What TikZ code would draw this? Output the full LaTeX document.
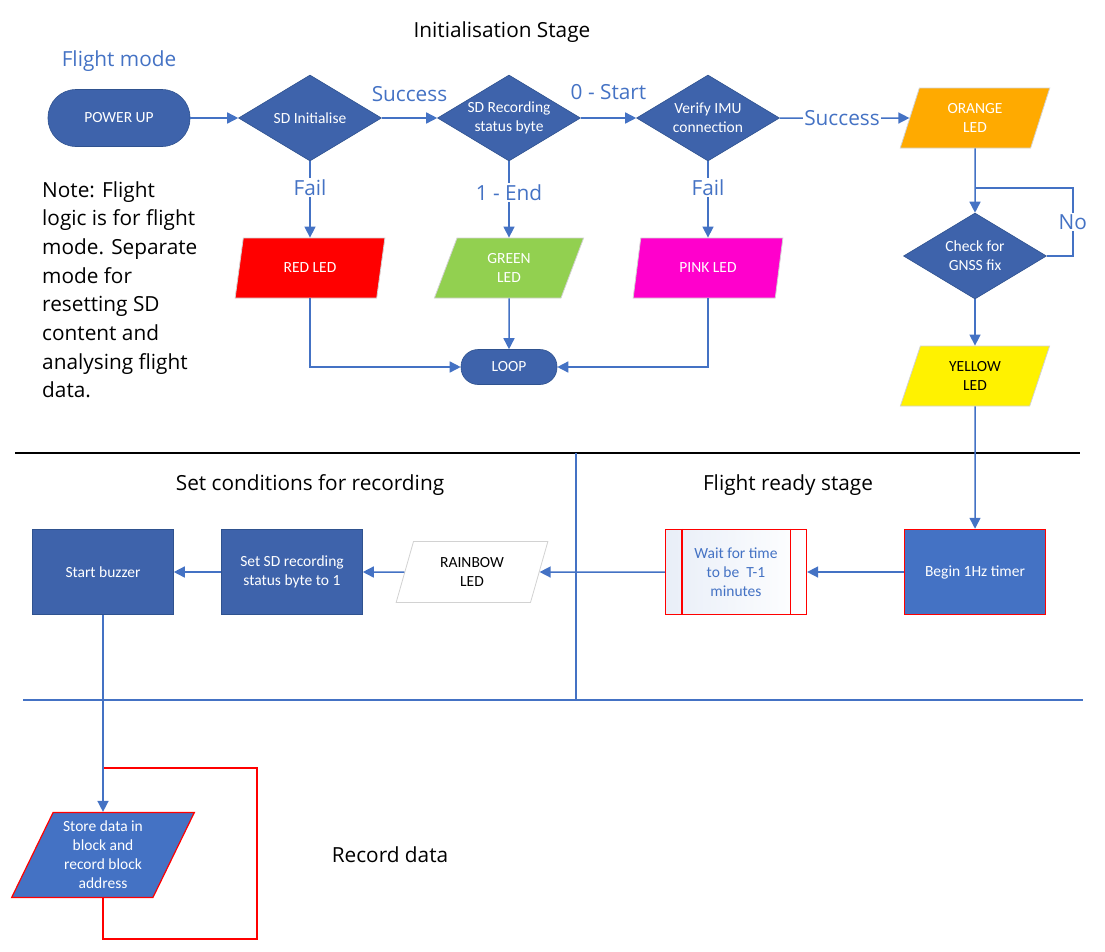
\documentclass[tikz,border=0pt]{standalone}
\usepackage{fontspec}
\setmainfont{Carlito}
\newfontfamily\labelfont{Open Sans}
\usetikzlibrary{arrows.meta,shapes.geometric}
\definecolor{nodeblue}{HTML}{3E63AB}
\definecolor{edgeblue}{HTML}{2F528F}
\definecolor{lineblue}{HTML}{4472C4}
\definecolor{ledgreen}{HTML}{92D050}
\definecolor{ledpink}{HTML}{FF00CC}
\definecolor{ledorange}{HTML}{FFAA00}
\tikzset{
 flow/.style={draw=lineblue,line width=1.5pt,-{Triangle[length=11pt,width=11pt]}},
 plainline/.style={draw=lineblue,line width=1.5pt},
 redloop/.style={draw=red,line width=1.8pt},
 nodetext/.style={font=\fontsize{15.5}{19}\selectfont,align=center},
 terminal/.style={nodetext,rectangle,rounded corners=28pt,minimum width=142pt,minimum height=57pt,fill=nodeblue,draw=edgeblue,line width=.6pt,text=white},
 decision/.style={nodetext,diamond,aspect=1.7,inner sep=0pt,minimum width=143pt,minimum height=86pt,fill=nodeblue,draw=edgeblue,line width=.6pt,text=white},
 ledbox/.style={nodetext,trapezium,trapezium left angle=72,trapezium right angle=108,trapezium stretches=true,minimum width=150pt,minimum height=60pt,draw=gray!35,line width=.8pt,text=white,inner sep=0pt},
 process/.style={nodetext,rectangle,minimum width=141pt,minimum height=85pt,fill=nodeblue,draw=edgeblue,line width=.6pt,text=white},
 heading/.style={font=\labelfont\fontsize{20.8}{28.7}\selectfont},
 edgelabel/.style={heading,text=lineblue,fill=white,inner sep=1.5pt}
}
\begin{document}
\begin{tikzpicture}[x=1pt,y=-1pt]
\path[use as bounding box] (0,0) rectangle (1105,951);
% stage titles
\node[heading] (tinit) at (502,32) {Initialisation Stage};
\node[heading,text=lineblue] (tmode) at (119,61) {Flight mode};
\node[heading] (tcond) at (310,485) {Set conditions for recording};
\node[heading] (tready) at (788,485) {Flight ready stage};
\node[heading] (trec) at (390,855) {Record data};
\node[heading,anchor=north west,align=left,inner sep=0pt] (note) at (42,181)
 {Note: Flight\\logic is for flight\\mode. Separate\\mode for\\resetting SD\\content and\\analysing flight\\data.};
% stage separators
\draw[line width=1.5pt] (15,453) -- (1080,453);
\draw[plainline] (23,700) -- (1083,700);
\draw[plainline] (576,453) -- (576,700);
% initialisation
\node[terminal] (power) at (119,118) {POWER UP};
\node[decision] (sdinit) at (310,118) {SD Initialise};
\node[decision] (sdrec) at (509,118) {SD Recording\\status byte};
\node[decision] (imu) at (708,118) {Verify IMU\\connection};
\node[ledbox,fill=ledorange] (orange) at (975,118) {ORANGE\\LED};
\node[ledbox,fill=red] (red) at (310,268) {RED LED};
\node[ledbox,fill=ledgreen] (green) at (509,268) {GREEN\\LED};
\node[ledbox,fill=ledpink] (pink) at (708,268) {PINK LED};
\node[terminal,rounded corners=17pt,minimum width=96pt,minimum height=35pt] (loop) at (509,367) {LOOP};
\node[decision] (gnss) at (975,256) {Check for\\GNSS fix};
\node[ledbox,fill=yellow,text=black] (yellow) at (975,376) {YELLOW\\LED};
\coordinate (nojoin) at (975,188);
\draw[flow] (power) -- (sdinit);
\draw[flow] (sdinit) -- node[heading,text=lineblue,anchor=base,yshift=17pt] {Success} (sdrec);
\draw[flow] (sdrec) -- node[heading,text=lineblue,anchor=base,yshift=19pt] {0 - Start} (imu);
\draw[flow] (imu) -- node[edgelabel,pos=.48] {Success} (orange);
\draw[flow] (sdinit) -- node[edgelabel,pos=.34] {Fail} (red);
\draw[flow] (sdrec) -- node[edgelabel,pos=.41] {1 - End} (green);
\draw[flow] (imu) -- node[edgelabel,pos=.34] {Fail} (pink);
\draw[flow] (red.south) |- (loop.west);
\draw[flow] (green.south) -- (loop.north);
\draw[flow] (pink.south) |- (loop.east);
\draw[flow] (orange.south) -- (gnss.north);
\draw[plainline] (gnss.east) -- ++(26,0) |- node[edgelabel,pos=.25] {No} (nojoin);
\draw[flow] (gnss) -- (yellow);
% flight ready
\node[process,fill=lineblue,draw=red,line width=1.5pt] (timer) at (975,572) {Begin 1Hz timer};
\node[process,draw=red,line width=1.2pt,left color=lineblue!12,right color=white,text=lineblue] (wait) at (736,572) {Wait for time\\to be~ T-1\\minutes};
\draw[red,line width=1.2pt] ([xshift=17pt]wait.north west) -- ([xshift=17pt]wait.south west);
\draw[red,line width=1.2pt] ([xshift=-17pt]wait.north east) -- ([xshift=-17pt]wait.south east);
\draw[flow] (yellow) -- (timer);
\draw[flow] (timer) -- (wait);
% set conditions
\node[ledbox,fill=white,text=black,minimum width=152pt,minimum height=61pt] (rainbow) at (472,572) {RAINBOW\\LED};
\node[process] (setsd) at (292,572) {Set SD recording\\status byte to 1};
\node[process] (buzzer) at (103,572) {Start buzzer};
\draw[flow] (wait) -- (rainbow);
\draw[flow] (rainbow) -- (setsd);
\draw[flow] (setsd) -- (buzzer);
% record data
\node[ledbox,trapezium left angle=64,trapezium right angle=116,minimum width=183pt,minimum height=85pt,fill=lineblue,draw=red,line width=1.2pt] (store) at (103,855) {Store data in\\block and\\record block\\address};
\coordinate (rl1) at (257,939);
\coordinate (rl2) at (103,768);
\draw[redloop] (store.south) |- (rl1) |- (rl2);
\draw[flow] (buzzer) -- (store);
\end{tikzpicture}
\end{document}
